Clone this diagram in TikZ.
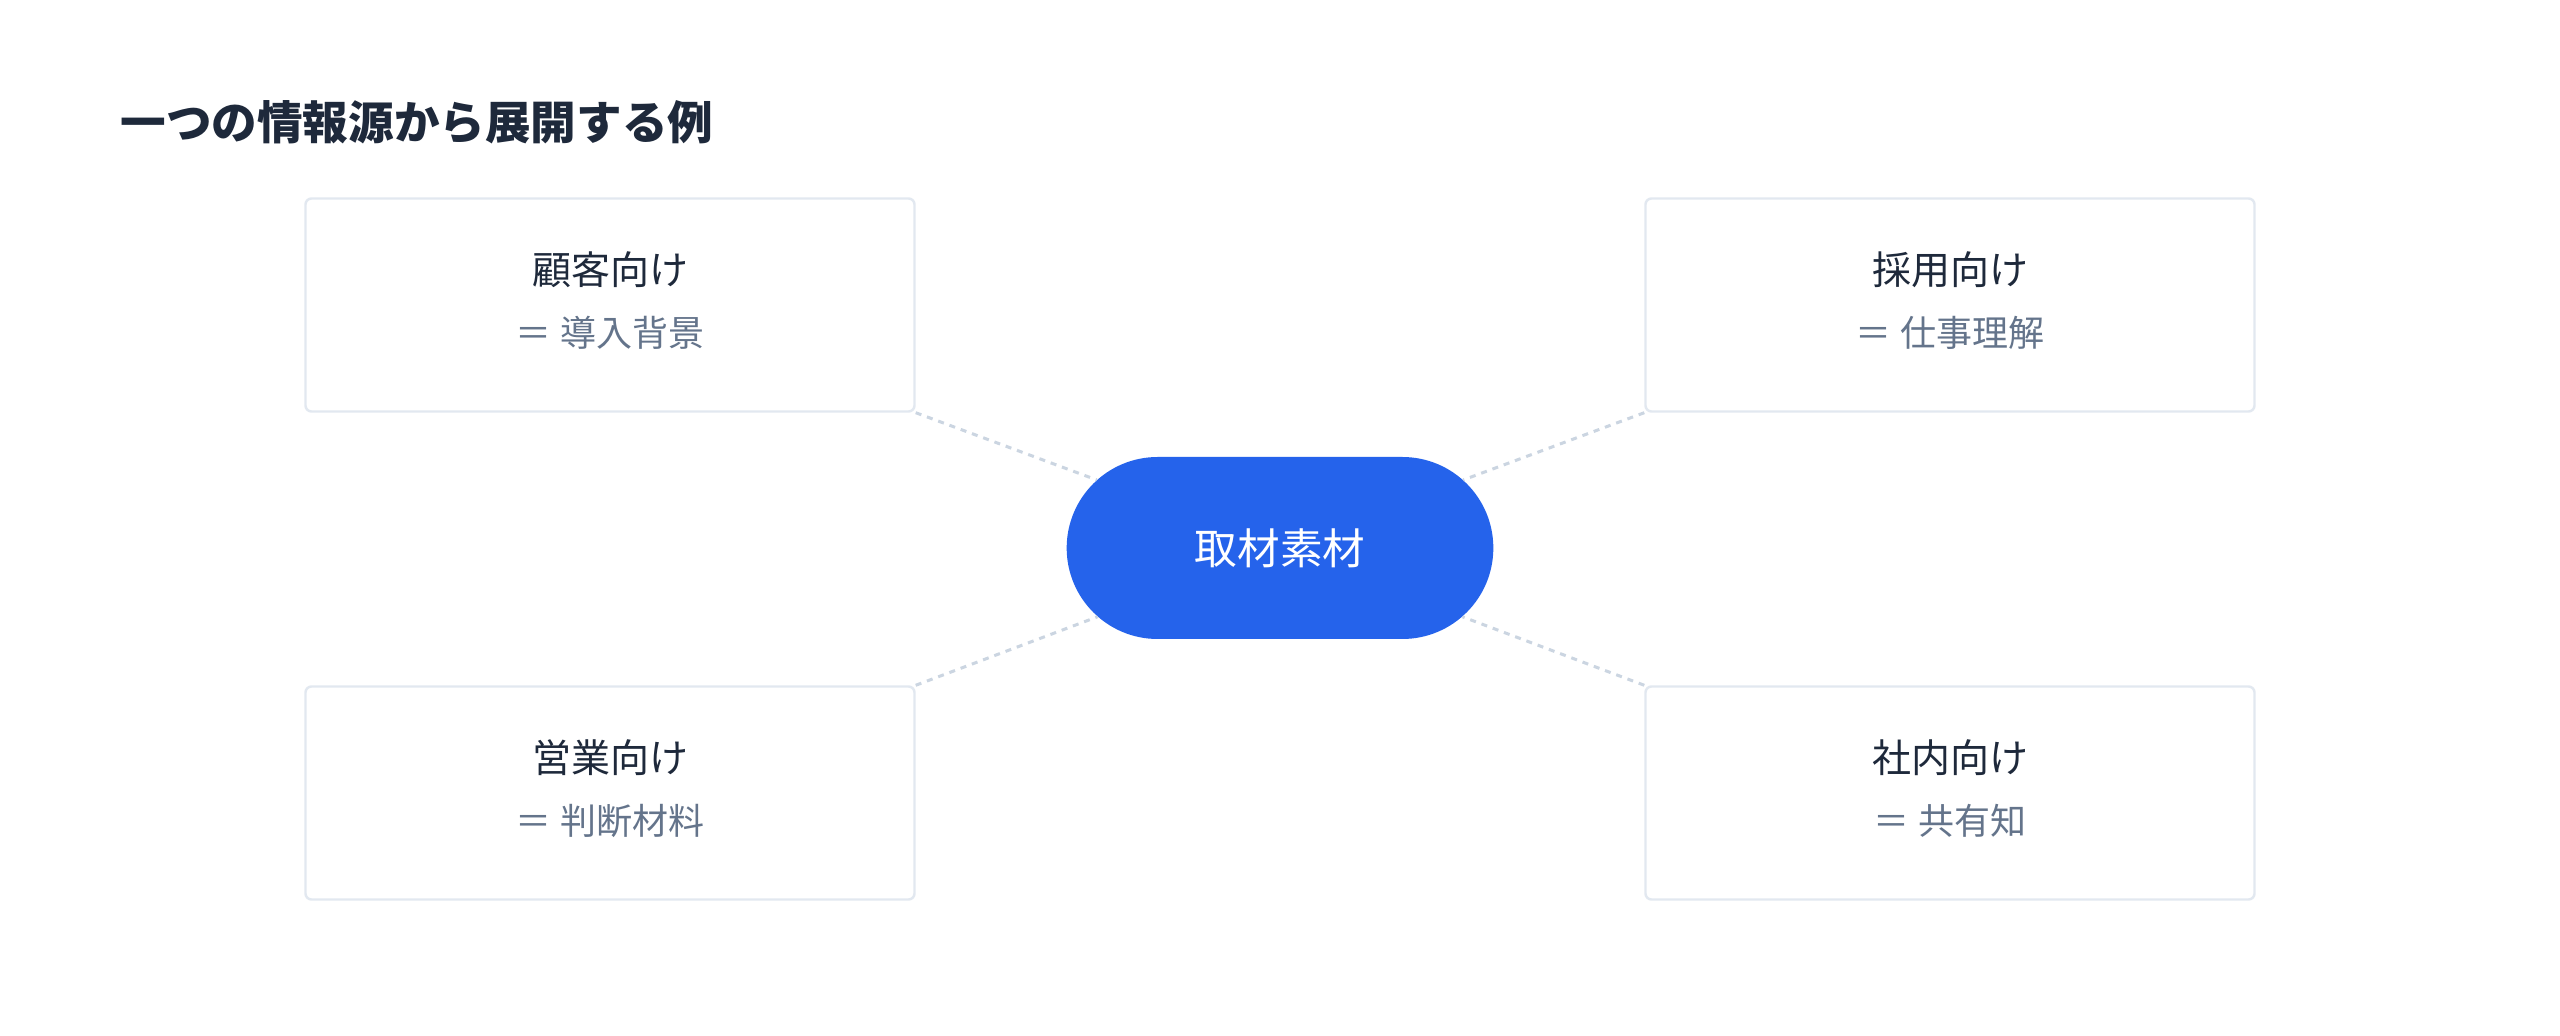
\documentclass[tikz,border=0pt]{standalone}
\usepackage{fontspec}
\setmainfont{Noto Sans CJK JP}
\usetikzlibrary{shapes.misc}
\definecolor{ink}{HTML}{1E293B}
\definecolor{muted}{HTML}{64748B}
\definecolor{edgegray}{HTML}{E2E8F0}
\definecolor{linkgray}{HTML}{CBD5E1}
\definecolor{accent}{HTML}{2563EB}
\tikzset{
  card/.style={draw=edgegray, line width=1.2pt, rounded corners=3pt, fill=white,
    minimum width=304.5pt, minimum height=106.5pt},
  cardhead/.style={text=ink, inner sep=0pt, font=\fontsize{19.5}{22}\selectfont},
  cardsub/.style={text=muted, inner sep=0pt, font=\fontsize{18}{20}\selectfont},
  hub/.style={rounded rectangle, fill=accent, text=white,
    minimum width=220pt, minimum height=91pt, font=\fontsize{21.3}{24}\selectfont},
  link/.style={draw=linkgray, line width=1.5pt, dash pattern=on 3pt off 3pt},
}
\begin{document}
\begin{tikzpicture}[x=0.5pt,y=-0.5pt]
  \useasboundingbox[fill=white] (0,0) rectangle (2560,1036);
  \node[anchor=west, inner sep=0pt, text=ink, font=\fontsize{22.8}{26}\selectfont\bfseries]
    (title) at (120,122) {一つの情報源から展開する例};
  \node[hub] (hub) at (1280,548) {取材素材};
  \foreach \name/\x/\y/\corner/\head/\sub in
    {kokyaku/610/305/south east/顧客向け/導入背景,
     saiyo/1950/305/south west/採用向け/仕事理解,
     eigyo/610/793/north east/営業向け/判断材料,
     shanai/1950/793/north west/社内向け/共有知} {
    \node[card] (\name) at (\x,\y) {};
    \node[cardhead] (\name-head) at (\x,\y-35) {\head};
    \node[cardsub] (\name-sub) at (\x,\y+28) {＝ \sub};
    \draw[link] (\name.\corner) -- (hub);
  }
\end{tikzpicture}
\end{document}
